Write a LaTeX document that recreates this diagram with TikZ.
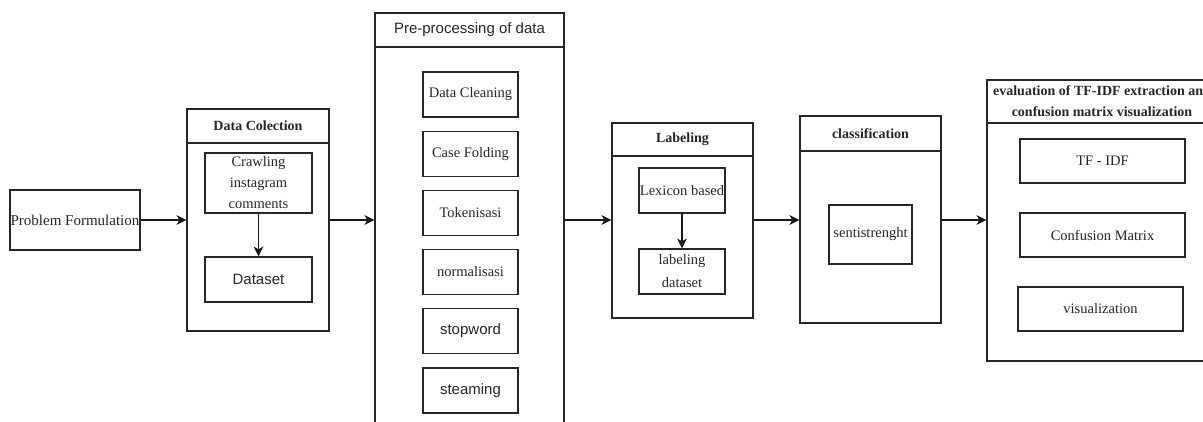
\documentclass[tikz,border=0pt]{standalone}
\usepackage{fontspec}
\setmainfont{Liberation Serif}
\newfontfamily\arialf{Liberation Sans}
\usetikzlibrary{arrows.meta}
\begin{document}
\begin{tikzpicture}[x=1pt,y=-1pt,
 box/.style={draw=black!85, line width=1.2pt, inner sep=0pt, align=center, font=\fontsize{14.5}{21}\selectfont, text=black!85},
 cont/.style={draw=black!85, line width=1.2pt, inner sep=0pt},
 ttl/.style={draw=black!85, line width=1.2pt, inner sep=0pt, anchor=north, align=center, font=\fontsize{14}{21}\selectfont\bfseries, text=black!85},
 arr/.style={draw=black!90, line width=1.2pt, -{Stealth[length=10pt,width=10pt,inset=3pt]}},
]
\useasboundingbox[fill=white] (0,0) rectangle (1203,421);

% containers
\node[cont, minimum width=142pt, minimum height=222pt] (dc) at (258,220) {};
\node[ttl, minimum width=142pt, minimum height=34pt] (dct) at (dc.north) {Data Colection};

\node[cont, minimum width=189pt, minimum height=427pt] (pp) at (469.5,226.5) {};
\node[ttl, minimum width=189pt, minimum height=34pt, font=\fontsize{15}{18}\selectfont\arialf] (ppt) at (pp.north) {Pre-processing of data};

\node[cont, minimum width=141pt, minimum height=195pt] (lb) at (682.5,220.5) {};
\node[ttl, minimum width=141pt, minimum height=33pt] (lbt) at (lb.north) {Labeling};

\node[cont, minimum width=141pt, minimum height=207pt] (cl) at (870.5,219.5) {};
\node[ttl, minimum width=141pt, minimum height=35pt] (clt) at (cl.north) {classification};

\node[cont, minimum width=230pt, minimum height=281pt] (ev) at (1102,220.5) {};
\node[ttl, minimum width=230pt, minimum height=43pt] (evt) at (ev.north) {evaluation of TF-IDF extraction and\\confusion matrix visualization};

% inner boxes
\node[box, minimum width=130pt, minimum height=60pt, font=\fontsize{15}{18}\selectfont] (pf) at (75,220) {Problem Formulation};

\node[box, minimum width=107pt, minimum height=60pt] (crawl) at (258.5,183) {Crawling\\instagram\\comments};
\node[box, minimum width=107pt, minimum height=45pt, font=\fontsize{15}{18}\selectfont\arialf] (ds) at (258.5,279.5) {Dataset};

\node[box, minimum width=95pt, minimum height=45pt] (p1) at (470.5,94.5) {Data Cleaning};
\node[box, minimum width=95pt, minimum height=45pt] (p2) at (470.5,154) {Case Folding};
\node[box, minimum width=95pt, minimum height=45pt] (p3) at (470.5,213) {Tokenisasi};
\node[box, minimum width=95pt, minimum height=45pt] (p4) at (470.5,272) {normalisasi};
\node[box, minimum width=95pt, minimum height=45pt, font=\fontsize{15}{18}\selectfont\arialf] (p5) at (470.5,331) {stopword};
\node[box, minimum width=95pt, minimum height=45pt, font=\fontsize{15}{18}\selectfont\arialf] (p6) at (470.5,390.5) {steaming};

\node[box, minimum width=86pt, minimum height=45pt] (lex) at (682,190.5) {Lexicon based};
\node[box, minimum width=86pt, minimum height=45pt, font=\fontsize{14.5}{23}\selectfont] (lbd) at (682,271.5) {labeling\\dataset};

\node[box, minimum width=83pt, minimum height=59pt] (senti) at (870.5,234.5) {sentistrenght};

\node[box, minimum width=165pt, minimum height=44pt] (tf) at (1102.5,161) {TF - IDF};
\node[box, minimum width=165pt, minimum height=44pt] (cm) at (1102.5,235) {Confusion Matrix};
\node[box, minimum width=165pt, minimum height=44pt] (vis) at (1100.5,309) {visualization};

% connectors
\draw[arr] (pf.east) -- (pf.east -| dc.west);
\draw[arr] (dc.east |- pf.east) -- (pf.east -| pp.west);
\draw[arr] (pp.east |- pf.east) -- (pf.east -| lb.west);
\draw[arr] (lb.east |- pf.east) -- (pf.east -| cl.west);
\draw[arr] (cl.east |- pf.east) -- (pf.east -| ev.west);
\draw[arr] (crawl) -- (ds);
\draw[arr] (lex) -- (lbd);
\end{tikzpicture}
\end{document}
